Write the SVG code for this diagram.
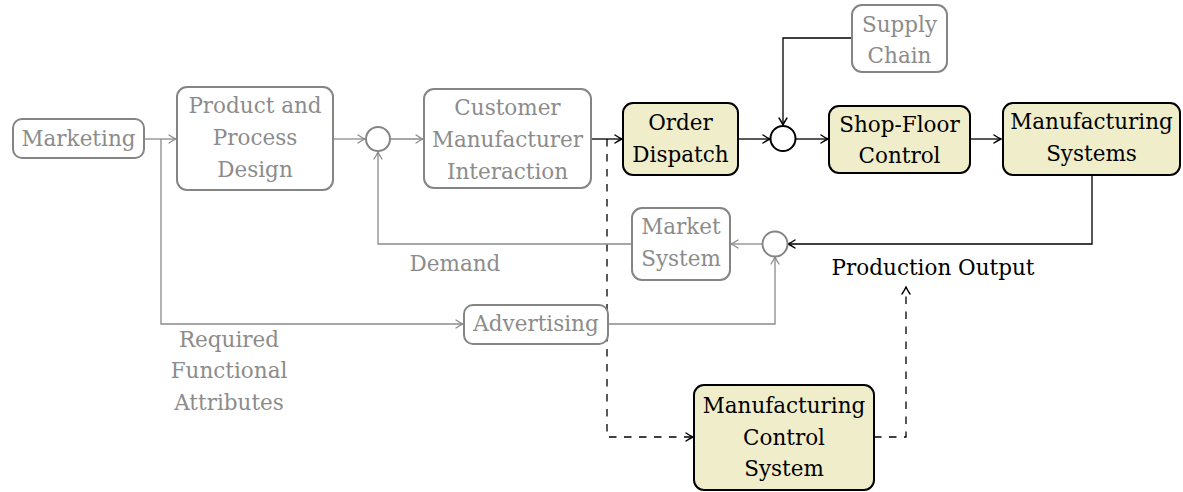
<svg xmlns="http://www.w3.org/2000/svg" width="1183" height="492" viewBox="0 0 1183 492">
  <style>
    text { font-family: "DejaVu Serif", serif; font-size: 21.5px; text-anchor: middle; }
    .g text, text.g { fill: #8c8c8c; }
    .k text, text.k { fill: #000; }
    .g rect, .g circle { fill: #fff; stroke: #858585; stroke-width: 2; }
    .k rect { fill: #f0edcb; stroke: #000; stroke-width: 2; }
    .k circle { fill: #fff; stroke: #000; stroke-width: 2; }
    .cg { fill: none; stroke: #8a8a8a; stroke-width: 1.3; marker-end: url(#ag); }
    .ck { fill: none; stroke: #000; stroke-width: 1.3; marker-end: url(#ak); }
    .cd { fill: none; stroke: #000; stroke-width: 1.3; stroke-dasharray: 7.5 7.5; marker-end: url(#ak); }
  </style>
  <defs>
    <marker id="ag" markerUnits="userSpaceOnUse" viewBox="-9 -5 10 10" refX="0" refY="0" markerWidth="10" markerHeight="10" orient="auto">
      <path d="M-7,-4 Q-2.5,-1 0,0 Q-2.5,1 -7,4" fill="none" stroke="#8a8a8a" stroke-width="1.3" stroke-linecap="round"/>
    </marker>
    <marker id="ak" markerUnits="userSpaceOnUse" viewBox="-9 -5 10 10" refX="0" refY="0" markerWidth="10" markerHeight="10" orient="auto">
      <path d="M-7,-4 Q-2.5,-1 0,0 Q-2.5,1 -7,4" fill="none" stroke="#000" stroke-width="1.4" stroke-linecap="round"/>
    </marker>
  </defs>

  <!-- connectors -->
  <g id="connectors">
    <path class="cg" d="M144,139 H176"/>
    <path class="cg" d="M161,139 V324 H463"/>
    <path class="cg" d="M333,139 H365"/>
    <path class="cg" d="M390,139 H423"/>
    <path class="ck" d="M591,139 H622"/>
    <path class="cd" d="M607,139 V437 H693"/>
    <path class="ck" d="M738,139 H770"/>
    <path class="ck" d="M852,38 H783 V125"/>
    <path class="ck" d="M796,139 H828"/>
    <path class="ck" d="M970,139 H1001"/>
    <path class="ck" d="M1092,175 V244 H788"/>
    <path class="cg" d="M762,244 H731"/>
    <path class="cg" d="M633,244 H378 V152"/>
    <path class="cg" d="M608,324 H775 V257"/>
    <path class="cd" d="M874,437 H906 V287"/>
  </g>

  <!-- gray nodes -->
  <g id="marketing" class="g">
    <rect x="13" y="119" width="131" height="39" rx="9"/>
    <text x="78.5" y="146">Marketing</text>
  </g>
  <g id="product-design" class="g">
    <rect x="177" y="87" width="156" height="103" rx="10"/>
    <text x="255" y="113">Product and</text>
    <text x="255" y="145">Process</text>
    <text x="255" y="177">Design</text>
  </g>
  <g id="sum-demand" class="g">
    <circle cx="378" cy="139" r="12"/>
  </g>
  <g id="customer-interaction" class="g">
    <rect x="424" y="89" width="167" height="99" rx="10"/>
    <text x="507.5" y="115">Customer</text>
    <text x="507.5" y="147">Manufacturer</text>
    <text x="507.5" y="179">Interaction</text>
  </g>
  <g id="supply-chain" class="g">
    <rect x="852" y="5" width="95" height="67" rx="10"/>
    <text x="899.5" y="32">Supply</text>
    <text x="899.5" y="63">Chain</text>
  </g>
  <g id="market-system" class="g">
    <rect x="632" y="208" width="98" height="72" rx="10"/>
    <text x="681" y="234">Market</text>
    <text x="681" y="266">System</text>
  </g>
  <g id="sum-output" class="g">
    <circle cx="775" cy="244" r="12.5"/>
  </g>
  <g id="advertising" class="g">
    <rect x="464" y="305" width="144" height="39" rx="9"/>
    <text x="536" y="331">Advertising</text>
  </g>

  <!-- black nodes -->
  <g id="order-dispatch" class="k">
    <rect x="623" y="103" width="115" height="72" rx="10"/>
    <text x="680.5" y="130">Order</text>
    <text x="680.5" y="162">Dispatch</text>
  </g>
  <g id="sum-supply" class="k">
    <circle cx="783" cy="138.5" r="12.5"/>
  </g>
  <g id="shop-floor" class="k">
    <rect x="829" y="106" width="141" height="67" rx="10"/>
    <text x="899.5" y="132">Shop-Floor</text>
    <text x="899.5" y="163">Control</text>
  </g>
  <g id="manufacturing-systems" class="k">
    <rect x="1003" y="103" width="177" height="72" rx="10"/>
    <text x="1091.5" y="129">Manufacturing</text>
    <text x="1091.5" y="161">Systems</text>
  </g>
  <g id="manufacturing-control" class="k">
    <rect x="694" y="385" width="180" height="105" rx="10"/>
    <text x="784" y="413">Manufacturing</text>
    <text x="784" y="445">Control</text>
    <text x="784" y="476">System</text>
  </g>

  <!-- edge labels -->
  <text class="g" x="455" y="271">Demand</text>
  <text class="g" x="229" y="347">Required</text>
  <text class="g" x="229" y="378">Functional</text>
  <text class="g" x="229" y="410">Attributes</text>
  <text class="k" x="933" y="275">Production Output</text>
</svg>
